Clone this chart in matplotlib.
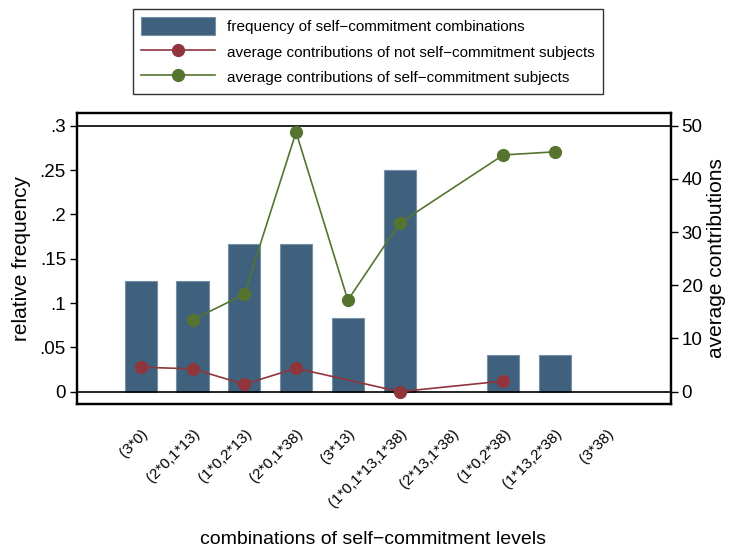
import numpy as np
import matplotlib
matplotlib.use("Agg")
from matplotlib import pyplot as plt

plt.rcParams['font.family'] = ['Liberation Sans', 'DejaVu Sans']

# combinations of self-commitment levels
categories = ["(3*0)", "(2*0,1*13)", "(1*0,2*13)", "(2*0,1*38)", "(3*13)",
              "(1*0,1*13,1*38)", "(2*13,1*38)", "(1*0,2*38)", "(1*13,2*38)", "(3*38)"]
rel_frequency = [3/24, 3/24, 4/24, 4/24, 2/24, 6/24, 0, 1/24, 1/24, 0]
contrib_not_self = [4.6, 4.3, 1.4, 4.4, np.nan, 0.0, np.nan, 2.0, np.nan, np.nan]
contrib_self = [np.nan, 13.5, 18.3, 48.8, 17.2, 31.7, np.nan, 44.5, 45.1, np.nan]

bar_color = "#3f617e"
red_color = "#90353b"
green_color = "#55752f"

fig = plt.figure(figsize=(7.3, 5.5), dpi=100)
ax = fig.add_axes([0.1055, 0.2655, 0.813, 0.529])
ax2 = ax.twinx()

x = np.arange(len(categories))
edges = ["#7890a6" if v > 0 else "none" for v in rel_frequency]
bars = ax.bar(x, rel_frequency, width=0.62, color=bar_color,
              edgecolor=edges, linewidth=0.8, zorder=2,
              label="frequency of self\u2212commitment combinations")

# reference lines at 0 and .3
ax.axhline(0, color="black", linewidth=1.2, zorder=2.5)
ax.axhline(0.3, color="black", linewidth=1.2, zorder=2.5)

def connected(vals, color, label):
    vals = np.array(vals, dtype=float)
    ok = ~np.isnan(vals)
    return ax2.plot(x[ok], vals[ok], color=color, linewidth=1.2,
                    marker="o", markersize=8.5, label=label, zorder=3)[0]

l1 = connected(contrib_not_self, red_color,
               "average contributions of not self\u2212commitment subjects")
l2 = connected(contrib_self, green_color,
               "average contributions of self\u2212commitment subjects")

ax.set_xlim(-1.23, 10.23)
ax.set_ylim(-0.0139, 0.3143)
ax2.set_ylim(-2.31, 52.39)

ax.set_yticks([0, 0.05, 0.1, 0.15, 0.2, 0.25, 0.3])
ax.set_yticklabels(["0", ".05", ".1", ".15", ".2", ".25", ".3"])
ax2.set_yticks([0, 10, 20, 30, 40, 50])

ax.set_xticks(x)
ax.set_xticklabels(categories, rotation=45, ha="right", va="top",
                   rotation_mode="anchor", fontsize=11)
ax.tick_params(axis="x", length=0, pad=16)
ax.tick_params(axis="y", labelsize=13.5, length=5, width=1, pad=3)
ax2.tick_params(axis="y", labelsize=13.5, length=5, width=1, pad=3)

for a in (ax, ax2):
    for s in a.spines.values():
        s.set_linewidth(1.6)

ax.set_ylabel("relative frequency", fontsize=15, labelpad=6)
ax2.set_ylabel("average contributions", fontsize=15, labelpad=3)
fig.text(0.511, 0.003, "combinations of self\u2212commitment levels",
         ha="center", va="bottom", fontsize=14)

leg = fig.legend(handles=[bars, l1, l2], loc="upper left",
                 bbox_to_anchor=(133/730, 1 - 9/550), fontsize=11,
                 frameon=True, fancybox=False, edgecolor="black",
                 handlelength=4.8, handleheight=1.4, handletextpad=0.78,
                 labelspacing=0.5, borderpad=0.55, numpoints=1,
                 borderaxespad=0)
leg.get_frame().set_linewidth(1.0)

fig.savefig("out.png", dpi=100)
